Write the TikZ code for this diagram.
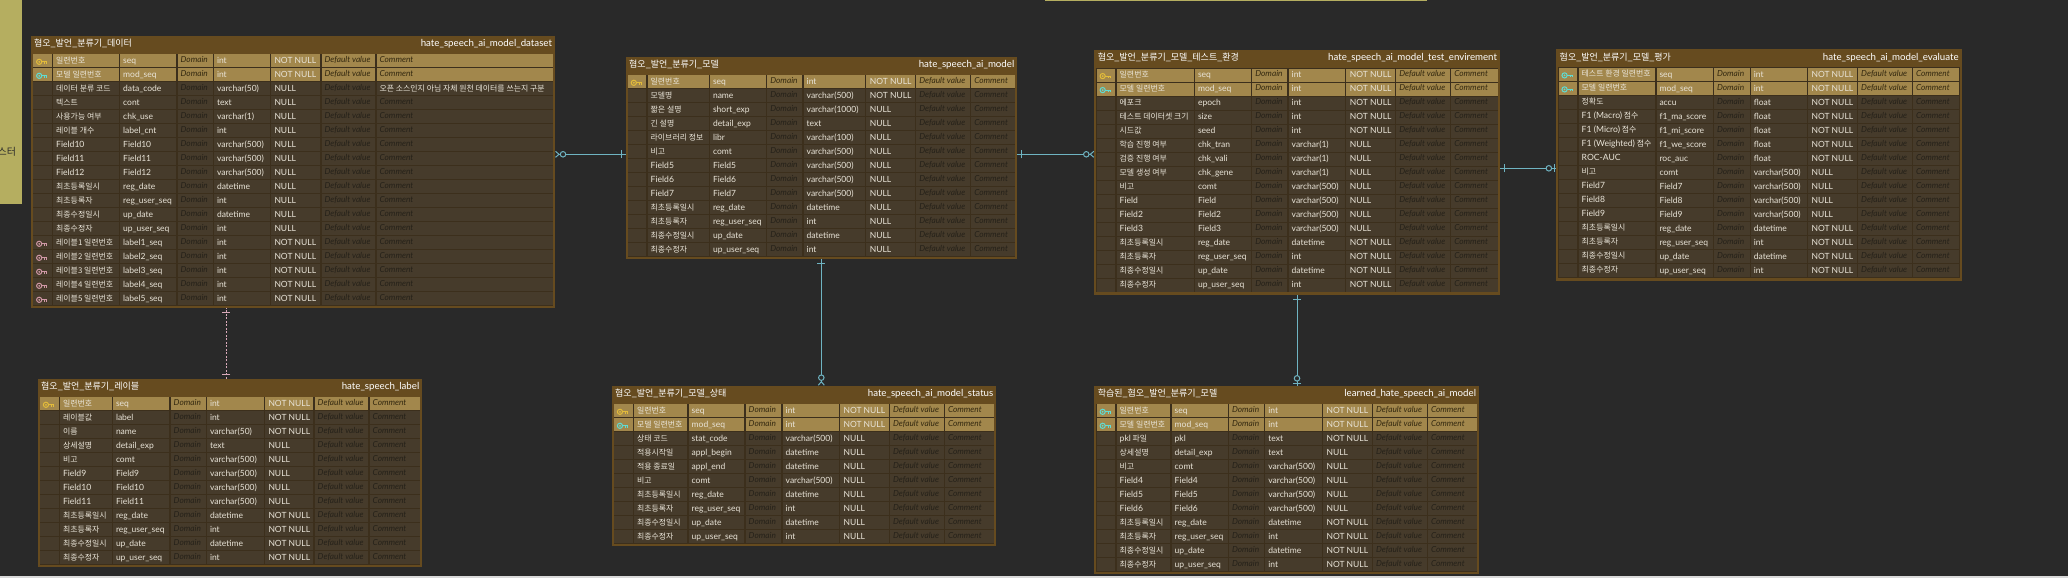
\documentclass[tikz,border=0pt]{standalone}
\usepackage{fontspec}
\usepackage{tikz}
\usetikzlibrary{arrows.meta,positioning}
\setmainfont{Lato}
\newfontfamily\krfont{Noto Sans CJK KR}
\catcode`\_=12

\definecolor{bgdark}{HTML}{292929}
\definecolor{panelyellow}{HTML}{B5AE60}
\definecolor{tableframe}{HTML}{664B1F}
\definecolor{tableinner}{HTML}{3C2F1C}
\definecolor{rowdark}{HTML}{463B2B}
\definecolor{rowkey}{HTML}{A2874C}
\definecolor{celltext}{HTML}{E9E4D8}
\definecolor{softdark}{HTML}{252119}
\definecolor{softkey}{HTML}{33280F}
\definecolor{linkteal}{HTML}{6FB4C2}
\definecolor{linkpink}{HTML}{D9A9B9}
\definecolor{keygold}{HTML}{E3BC3A}
\definecolor{keycyan}{HTML}{5FDCD4}
\definecolor{keypink}{HTML}{D098A6}

\newcommand{\lat}[1]{{\rmfamily\fontsize{8.6}{10}\selectfont #1}}
\newcommand{\keyshape}{
	\draw (-2.6,0) circle (2.6);
	\fill (-2.6,0) circle (1);
	\draw (0,0) -- (5,0) -- (5,2);
	\draw (3,0) -- (3,2);
}

\tikzset{
	every node/.style={inner sep=0pt,outer sep=0pt},
	tablebox/.style={fill=tableframe,anchor=north west},
	titlekr/.style={font=\krfont\fontsize{9}{12}\selectfont,text=white,anchor=base west},
	titleen/.style={font=\fontsize{9.7}{12}\selectfont,text=white,anchor=base east},
	cellkr/.style={font=\krfont\fontsize{7.9}{10}\selectfont,text=celltext,anchor=base west},
	cellen/.style={font=\fontsize{8.5}{10}\selectfont,text=celltext,anchor=base west},
	cell n/.style={fill=rowdark},
	cell p/.style={fill=rowdark},
	cell g/.style={fill=rowkey},
	cell c/.style={fill=rowkey},
	soft n/.style={font=\itshape\fontsize{8.3}{10}\selectfont,anchor=base west,text=softdark},
	soft p/.style={soft n},
	soft g/.style={font=\itshape\fontsize{8.3}{10}\selectfont,anchor=base west,text=softkey},
	soft c/.style={soft g},
	key n/.pic={},
	key g/.pic={\begin{scope}[draw=keygold,fill=keygold,line width=1pt]\keyshape\end{scope}},
	key c/.pic={\begin{scope}[draw=keycyan,fill=keycyan,line width=1pt]\keyshape\end{scope}},
	key p/.pic={\begin{scope}[draw=keypink,fill=keypink,line width=1pt]\keyshape\end{scope}},
	onebar/.tip={Bar[width=8pt,line width=1pt,sep=4pt] Bar[width=0pt,line width=0.1pt]},
	zeromany/.tip={Circle[open,fill=bgdark,length=6.5pt,width=6.5pt,line width=1pt,sep=0pt] Straight Barb[reversed,length=3.5pt,width=6pt,line width=1pt]},
	zeroone/.tip={Circle[open,fill=bgdark,length=6.5pt,width=6.5pt,line width=1pt,sep=1.5pt] Bar[width=8pt,line width=1pt,sep=1.5pt] Bar[width=0pt,line width=0.1pt]},
	linkmany/.style={draw=linkteal,line width=1pt,{onebar}-{zeromany}},
	linkone/.style={draw=linkteal,line width=1pt,{onebar}-{zeroone}},
	linkdash/.style={draw=linkpink,line width=1pt,dash pattern=on 2pt off 1.5pt,{onebar}-{onebar}},
}

% column edges of the table that comes next
\newcommand{\setcols}[9]{\def\ca{#1}\def\cb{#2}\def\cc{#3}\def\cd{#4}\def\ce{#5}\def\cf{#6}\def\cg{#7}\def\ch{#8}\def\ci{#9}}
\def\cmtrow{0}
\def\cmttext{}

% id, korean title, table name, x0, y0, x1, y1, rows
\newcommand{\ertable}[8]{
	\node[tablebox,minimum width={(#6-#4)*1pt},minimum height={(#7-#5)*1pt}] (#1) at (#4,#5) {};
	\fill[tableinner] (#4+2,#5+18) rectangle (#6-2,#7-2.5);
	\node[titlekr] (#1-kr) at (#4+3.5,#5+10.7) {#2};
	\node[titleen] (#1-en) at (#6-3,#5+10.7) {#3};
	\foreach \rk/\rn/\rp/\rt/\ru [count=\r] in {#8} {
		\pgfmathsetmacro\rowtop{#5+18.7+14*(\r-1)}
		\foreach \cl/\cr in {\ca/\cb,\cb/\cc,\cc/\cd,\cd/\ce,\ce/\cf,\cf/\cg,\cg/\ch}
			\fill[cell \rk] (\cl,\rowtop) rectangle (\cr-1.3,\rowtop+13);
		\fill[cell \rk] (\ch,\rowtop) rectangle (\ci,\rowtop+13);
		\pic at ({(\ca+\cb-1.3)/2-0.8},\rowtop+7.4) {key \rk};
		\node[cellkr] (#1-\r-name) at (\cb+3,\rowtop+8.8) {\rn};
		\node[cellen] (#1-\r-phys) at (\cc+3,\rowtop+9) {\rp};
		\node[soft \rk] (#1-\r-dom) at (\cd+3,\rowtop+8.2) {Domain};
		\node[cellen] (#1-\r-type) at (\ce+3,\rowtop+9) {\rt};
		\node[cellen] (#1-\r-null) at (\cf+3.5,\rowtop+9) {\ru};
		\node[soft \rk] (#1-\r-def) at (\cg+3,\rowtop+8.2) {Default value};
		\ifnum\r=\cmtrow
			\node[cellkr] (#1-\r-cmt) at (\ch+3,\rowtop+8.8) {\cmttext};
		\else
			\node[soft \rk] (#1-\r-cmt) at (\ch+3,\rowtop+8.2) {Comment};
		\fi
	}
}

\begin{document}
\begin{tikzpicture}[x=1pt,y=-1pt]
	\useasboundingbox (0,0) rectangle (2068,581);
	\fill[bgdark] (0,0) rectangle (2068,581);
	\fill[panelyellow] (0,0) rectangle (22,204);
	\fill[panelyellow] (1045,0) rectangle (1427,1.2);
	\fill[white!85!black] (0,576) rectangle (2068,578);
	\fill[white] (0,578) rectangle (2068,581);
	\node[font=\krfont\fontsize{10}{12}\selectfont,text=bgdark,anchor=base east] (panel) at (16,155) {스터};

	\setcols{33.3}{53.2}{120.2}{177.6}{214}{271}{321.5}{376.6}{553}
	\def\cmtrow{3}
	\def\cmttext{오픈 소스인지 아님 자체 원천 데이터를 쓰는지 구분}
	\ertable{dataset}{혐오_발언_분류기_데이터}{hate_speech_ai_model_dataset}{30.6}{35.7}{555}{308.3}{
		g/일련번호/seq/int/NOT NULL,
		c/모델 일련번호/mod_seq/int/NOT NULL,
		n/데이터 분류 코드/data_code/varchar(50)/NULL,
		n/텍스트/cont/text/NULL,
		n/사용가능 여부/chk_use/varchar(1)/NULL,
		n/레이블 개수/label_cnt/int/NULL,
		n/\lat{Field10}/Field10/varchar(500)/NULL,
		n/\lat{Field11}/Field11/varchar(500)/NULL,
		n/\lat{Field12}/Field12/varchar(500)/NULL,
		n/최초등록일시/reg_date/datetime/NULL,
		n/최초등록자/reg_user_seq/int/NULL,
		n/최종수정일시/up_date/datetime/NULL,
		n/최종수정자/up_user_seq/int/NULL,
		p/레이블1 일련번호/label1_seq/int/NOT NULL,
		p/레이블2 일련번호/label2_seq/int/NOT NULL,
		p/레이블3 일련번호/label3_seq/int/NOT NULL,
		p/레이블4 일련번호/label4_seq/int/NOT NULL,
		p/레이블5 일련번호/label5_seq/int/NOT NULL}
	\def\cmtrow{0}

	\setcols{628}{647.7}{710}{767.3}{803.7}{866.3}{916.3}{971.3}{1015}
	\ertable{model}{혐오_발언_분류기_모델}{hate_speech_ai_model}{625.7}{56.7}{1017.3}{259.3}{
		g/일련번호/seq/int/NOT NULL,
		n/모델명/name/varchar(500)/NOT NULL,
		n/짧은 설명/short_exp/varchar(1000)/NULL,
		n/긴 설명/detail_exp/text/NULL,
		n/라이브러리 정보/libr/varchar(100)/NULL,
		n/비고/comt/varchar(500)/NULL,
		n/\lat{Field5}/Field5/varchar(500)/NULL,
		n/\lat{Field6}/Field6/varchar(500)/NULL,
		n/\lat{Field7}/Field7/varchar(500)/NULL,
		n/최초등록일시/reg_date/datetime/NULL,
		n/최초등록자/reg_user_seq/int/NULL,
		n/최종수정일시/up_date/datetime/NULL,
		n/최종수정자/up_user_seq/int/NULL}

	\setcols{1096.7}{1116.7}{1195}{1252.3}{1288.7}{1346.3}{1396.3}{1451.3}{1497.7}
	\ertable{testenv}{혐오_발언_분류기_모델_테스트_환경}{hate_speech_ai_model_test_envirement}{1094.3}{50}{1500}{294.7}{
		g/일련번호/seq/int/NOT NULL,
		c/모델 일련번호/mod_seq/int/NOT NULL,
		n/에포크/epoch/int/NOT NULL,
		n/테스트 데이터셋 크기/size/int/NOT NULL,
		n/시드값/seed/int/NOT NULL,
		n/학습 진행 여부/chk_tran/varchar(1)/NULL,
		n/검증 진행 여부/chk_vali/varchar(1)/NULL,
		n/모델 생성 여부/chk_gene/varchar(1)/NULL,
		n/비고/comt/varchar(500)/NULL,
		n/\lat{Field}/Field/varchar(500)/NULL,
		n/\lat{Field2}/Field2/varchar(500)/NULL,
		n/\lat{Field3}/Field3/varchar(500)/NULL,
		n/최초등록일시/reg_date/datetime/NOT NULL,
		n/최초등록자/reg_user_seq/int/NOT NULL,
		n/최종수정일시/up_date/datetime/NOT NULL,
		n/최종수정자/up_user_seq/int/NOT NULL}

	\setcols{1558.5}{1578.7}{1656.5}{1714}{1750.8}{1808}{1858.2}{1913}{1959}
	\ertable{evaluate}{혐오_발언_분류기_모델_평가}{hate_speech_ai_model_evaluate}{1556.2}{49.3}{1961.6}{280.7}{
		c/테스트 환경 일련번호/seq/int/NOT NULL,
		c/모델 일련번호/mod_seq/int/NOT NULL,
		n/정확도/accu/float/NOT NULL,
		n/\lat{F1 (Macro)} 점수/f1_ma_score/float/NOT NULL,
		n/\lat{F1 (Micro)} 점수/f1_mi_score/float/NOT NULL,
		n/\lat{F1 (Weighted)} 점수/f1_we_score/float/NOT NULL,
		n/\lat{ROC-AUC}/roc_auc/float/NOT NULL,
		n/비고/comt/varchar(500)/NULL,
		n/\lat{Field7}/Field7/varchar(500)/NULL,
		n/\lat{Field8}/Field8/varchar(500)/NULL,
		n/\lat{Field9}/Field9/varchar(500)/NULL,
		n/최초등록일시/reg_date/datetime/NOT NULL,
		n/최초등록자/reg_user_seq/int/NOT NULL,
		n/최종수정일시/up_date/datetime/NOT NULL,
		n/최종수정자/up_user_seq/int/NOT NULL}

	\setcols{40}{60}{113}{170.7}{207}{265}{314.7}{369.7}{420}
	\ertable{label}{혐오_발언_분류기_레이블}{hate_speech_label}{37.7}{378.7}{422.3}{567.3}{
		g/일련번호/seq/int/NOT NULL,
		n/레이블값/label/int/NOT NULL,
		n/이름/name/varchar(50)/NOT NULL,
		n/상세설명/detail_exp/text/NULL,
		n/비고/comt/varchar(500)/NULL,
		n/\lat{Field9}/Field9/varchar(500)/NULL,
		n/\lat{Field10}/Field10/varchar(500)/NULL,
		n/\lat{Field11}/Field11/varchar(500)/NULL,
		n/최초등록일시/reg_date/datetime/NOT NULL,
		n/최초등록자/reg_user_seq/int/NOT NULL,
		n/최종수정일시/up_date/datetime/NOT NULL,
		n/최종수정자/up_user_seq/int/NOT NULL}

	\setcols{614}{634}{688.7}{745.7}{782.7}{840}{890}{945}{994}
	\ertable{status}{혐오_발언_분류기_모델_상태}{hate_speech_ai_model_status}{611.7}{385.7}{996.3}{546.3}{
		g/일련번호/seq/int/NOT NULL,
		c/모델 일련번호/mod_seq/int/NOT NULL,
		n/상태 코드/stat_code/varchar(500)/NULL,
		n/적용시작일/appl_begin/datetime/NULL,
		n/적용 종료일/appl_end/datetime/NULL,
		n/비고/comt/varchar(500)/NULL,
		n/최초등록일시/reg_date/datetime/NULL,
		n/최초등록자/reg_user_seq/int/NULL,
		n/최종수정일시/up_date/datetime/NULL,
		n/최종수정자/up_user_seq/int/NULL}

	\setcols{1096.7}{1116.7}{1171.7}{1229}{1265.3}{1323}{1373}{1428}{1476.7}
	\ertable{learned}{학습된_혐오_발언_분류기_모델}{learned_hate_speech_ai_model}{1094.3}{385.7}{1479}{574.3}{
		c/일련번호/seq/int/NOT NULL,
		c/모델 일련번호/mod_seq/int/NOT NULL,
		n/\lat{pkl} 파일/pkl/text/NOT NULL,
		n/상세설명/detail_exp/text/NULL,
		n/비고/comt/varchar(500)/NULL,
		n/\lat{Field4}/Field4/varchar(500)/NULL,
		n/\lat{Field5}/Field5/varchar(500)/NULL,
		n/\lat{Field6}/Field6/varchar(500)/NULL,
		n/최초등록일시/reg_date/datetime/NOT NULL,
		n/최초등록자/reg_user_seq/int/NOT NULL,
		n/최종수정일시/up_date/datetime/NOT NULL,
		n/최종수정자/up_user_seq/int/NOT NULL}

	\coordinate (lk1) at (0,154.3);
	\coordinate (lk2) at (0,168.3);
	\coordinate (lk3) at (226.3,0);
	\coordinate (lk4) at (821.3,0);
	\coordinate (lk5) at (1297,0);

	\path (model.west |- lk1) edge[linkmany] (dataset.east |- lk1);
	\path (model.east |- lk1) edge[linkmany] (testenv.west |- lk1);
	\path (testenv.east |- lk2) edge[linkone] (evaluate.west |- lk2);
	\path (label.north -| lk3) edge[linkdash] (dataset.south -| lk3);
	\path (model.south -| lk4) edge[linkmany] (status.north -| lk4);
	\path (testenv.south -| lk5) edge[linkone] (learned.north -| lk5);
\end{tikzpicture}
\end{document}
